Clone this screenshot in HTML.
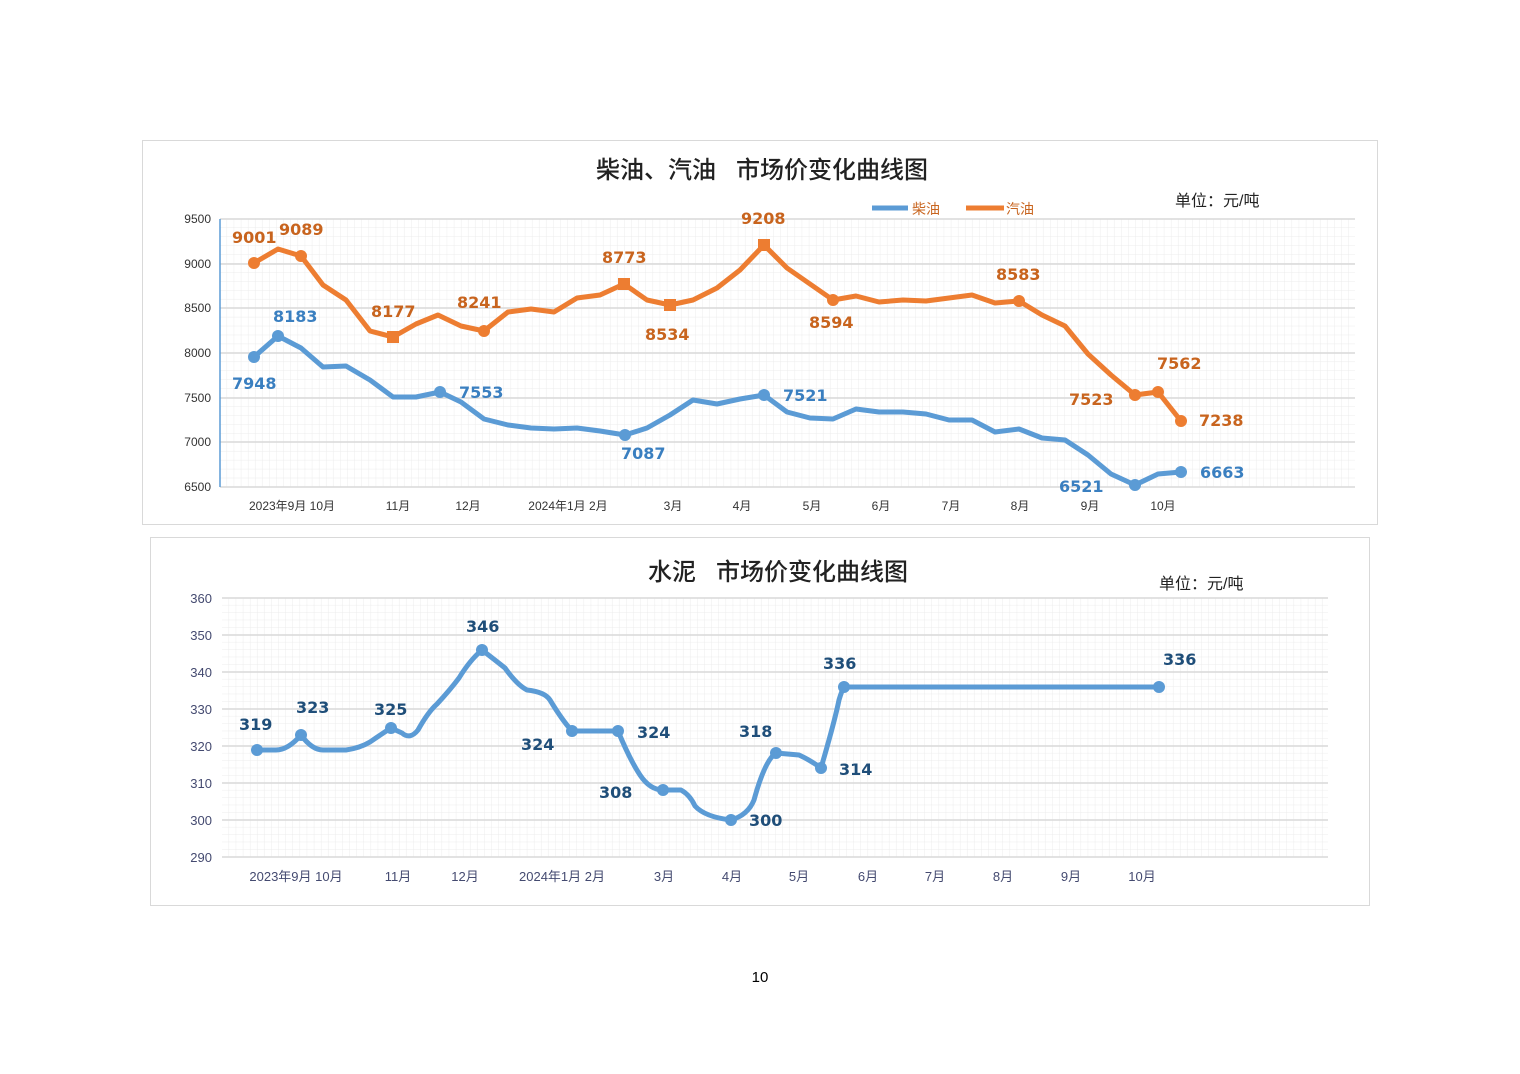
<!DOCTYPE html>
<html><head><meta charset="utf-8">
<style>
body{margin:0;background:#fff;}
svg{display:block;font-family:"Liberation Sans","Noto Sans CJK SC",sans-serif;}
.o{fill:#c8641e;font-weight:bold;font-size:16px;font-family:"DejaVu Sans",sans-serif}
.b{fill:#3a7fc0;font-weight:bold;font-size:16px;font-family:"DejaVu Sans",sans-serif}
.c{fill:#1f4e79;font-weight:bold;font-size:16px;font-family:"DejaVu Sans",sans-serif}
.ax{fill:#333;font-size:12px}
.ax2{fill:#444a70;font-size:13px}
</style></head><body>
<svg width="1520" height="1074" viewBox="0 0 1520 1074">
<defs>
<pattern id="g1" x="220" y="219" width="7.1" height="8.94" patternUnits="userSpaceOnUse">
<path d="M7.1 0V8.94M0 8.94H7.1" stroke="#ececec" stroke-width="1" fill="none"/></pattern>
<pattern id="g2" x="222" y="598" width="7.1" height="7.4" patternUnits="userSpaceOnUse">
<path d="M7.1 0V7.4M0 7.4H7.1" stroke="#ececec" stroke-width="1" fill="none"/></pattern>
</defs>
<rect x="142.5" y="140.5" width="1235" height="384" fill="#fff" stroke="#d9d9d9"/>
<text x="762" y="178" text-anchor="middle" font-size="24" font-weight="500" fill="#222">柴油、汽油&#160;&#160;&#160;市场价变化曲线图</text>
<text x="1175" y="206" font-size="16" fill="#222">单位：元/吨</text>
<line x1="872" y1="208" x2="908" y2="208" stroke="#5b9bd5" stroke-width="5"/>
<text x="912" y="214" font-size="14" fill="#c8641e">柴油</text>
<line x1="966" y1="208" x2="1004" y2="208" stroke="#ed7d31" stroke-width="5"/>
<text x="1006" y="214" font-size="14" fill="#c8641e">汽油</text>
<rect x="220" y="219" width="1135" height="268" fill="url(#g1)"/>
<g stroke="#d9d9d9" stroke-width="1.5">
<line x1="220" y1="219" x2="1355" y2="219"/><line x1="220" y1="264" x2="1355" y2="264"/>
<line x1="220" y1="308" x2="1355" y2="308"/><line x1="220" y1="353" x2="1355" y2="353"/>
<line x1="220" y1="398" x2="1355" y2="398"/><line x1="220" y1="442" x2="1355" y2="442"/>
<line x1="220" y1="487" x2="1355" y2="487"/></g>
<line x1="220" y1="219" x2="220" y2="487" stroke="#5b9bd5" stroke-width="1.5"/>
<g class="ax" text-anchor="end"><text x="211" y="223">9500</text><text x="211" y="268">9000</text><text x="211" y="312">8500</text><text x="211" y="357">8000</text><text x="211" y="402">7500</text><text x="211" y="446">7000</text><text x="211" y="491">6500</text></g>
<g class="ax" text-anchor="middle"><text x="292" y="510">2023年9月 10月</text><text x="398" y="510">11月</text><text x="468" y="510">12月</text><text x="568" y="510">2024年1月 2月</text><text x="673" y="510">3月</text><text x="742" y="510">4月</text><text x="812" y="510">5月</text><text x="881" y="510">6月</text><text x="951" y="510">7月</text><text x="1020" y="510">8月</text><text x="1090" y="510">9月</text><text x="1163" y="510">10月</text></g>
<polyline fill="none" stroke="#ed7d31" stroke-width="5" stroke-linejoin="round" points="254,263 278,249 301,256 323,285 346,300 370,331 393,337 416,324 438,315 461,326 484,331 508,312 531,309 554,312 577,298 600,295 624,284 647,300 670,305 693,300 717,288 740,270 764,245 787,268 810,284 833,300 856,296 879,302 903,300 926,301 949,298 972,295 995,303 1019,301 1042,315 1065,326 1088,354 1111,375 1135,395 1158,392 1181,421"/>
<g fill="#ed7d31"><circle cx="254" cy="263" r="6"/><circle cx="301" cy="256" r="6"/><rect x="387" y="331" width="12" height="12"/><circle cx="484" cy="331" r="6"/><rect x="618" y="278" width="12" height="12"/><rect x="664" y="299" width="12" height="12"/><rect x="758" y="239" width="12" height="12"/><circle cx="833" cy="300" r="6"/><circle cx="1019" cy="301" r="6"/><circle cx="1135" cy="395" r="6"/><circle cx="1158" cy="392" r="6"/><circle cx="1181" cy="421" r="6"/></g>
<polyline fill="none" stroke="#5b9bd5" stroke-width="5" stroke-linejoin="round" points="254,357 278,336 301,348 323,367 346,366 370,380 393,397 416,397 440,392 461,402 484,419 508,425 531,428 554,429 577,428 600,431 625,435 647,428 670,415 693,400 717,404 740,399 764,395 787,412 810,418 833,419 856,409 879,412 903,412 926,414 949,420 972,420 995,432 1019,429 1042,438 1065,440 1088,455 1111,474 1135,485 1158,474 1181,472"/>
<g fill="#5b9bd5"><circle cx="254" cy="357" r="6"/><circle cx="278" cy="336" r="6"/><circle cx="440" cy="392" r="6"/><circle cx="625" cy="435" r="6"/><circle cx="764" cy="395" r="6"/><circle cx="1135" cy="485" r="6"/><circle cx="1181" cy="472" r="6"/></g>
<g class="o"><text x="232" y="243">9001</text><text x="279" y="235">9089</text><text x="371" y="317">8177</text><text x="457" y="308">8241</text><text x="602" y="263">8773</text><text x="645" y="340">8534</text><text x="741" y="224">9208</text><text x="809" y="328">8594</text><text x="996" y="280">8583</text><text x="1069" y="405">7523</text><text x="1157" y="369">7562</text><text x="1199" y="426">7238</text></g>
<g class="b"><text x="232" y="389">7948</text><text x="273" y="322">8183</text><text x="459" y="398">7553</text><text x="621" y="459">7087</text><text x="783" y="401">7521</text><text x="1059" y="492">6521</text><text x="1200" y="478">6663</text></g>

<rect x="150.5" y="537.5" width="1219" height="368" fill="#fff" stroke="#d9d9d9"/>
<text x="778" y="580" text-anchor="middle" font-size="24" font-weight="500" fill="#222">水泥&#160;&#160;&#160;市场价变化曲线图</text>
<text x="1159" y="589" font-size="16" fill="#222">单位：元/吨</text>
<rect x="222" y="598" width="1106" height="259" fill="url(#g2)"/>
<g stroke="#d9d9d9" stroke-width="1.5">
<line x1="222" y1="598" x2="1328" y2="598"/><line x1="222" y1="635" x2="1328" y2="635"/><line x1="222" y1="672" x2="1328" y2="672"/><line x1="222" y1="709" x2="1328" y2="709"/><line x1="222" y1="746" x2="1328" y2="746"/><line x1="222" y1="783" x2="1328" y2="783"/><line x1="222" y1="820" x2="1328" y2="820"/><line x1="222" y1="857" x2="1328" y2="857"/></g>
<g class="ax2" text-anchor="end"><text x="212" y="603">360</text><text x="212" y="640">350</text><text x="212" y="677">340</text><text x="212" y="714">330</text><text x="212" y="751">320</text><text x="212" y="788">310</text><text x="212" y="825">300</text><text x="212" y="862">290</text></g>
<g class="ax2" text-anchor="middle" font-size="12"><text x="296" y="881">2023年9月 10月</text><text x="398" y="881">11月</text><text x="465" y="881">12月</text><text x="562" y="881">2024年1月 2月</text><text x="664" y="881">3月</text><text x="732" y="881">4月</text><text x="799" y="881">5月</text><text x="868" y="881">6月</text><text x="935" y="881">7月</text><text x="1003" y="881">8月</text><text x="1071" y="881">9月</text><text x="1142" y="881">10月</text></g>
<path fill="none" stroke="#5b9bd5" stroke-width="5" stroke-linejoin="round" d="M257,750 L276,750 Q288,750 301,735 Q312,750 323,750 L346,750 Q360,748 370,742 Q380,735 391,728 L402,733 Q410,740 418,730 Q428,712 437,704 Q450,690 459,678 Q470,660 482,650 Q495,660 505,668 Q517,685 527,690 Q545,692 550,700 Q562,720 572,731 L618,731 Q630,760 640,775 Q650,790 663,790 L681,790 Q690,795 695,806 Q705,817 731,820 Q748,815 754,800 Q765,760 776,753 L799,755 Q810,760 821,768 Q835,720 839,700 Q842,690 844,687 L1159,687"/>
<g fill="#5b9bd5"><circle cx="257" cy="750" r="6"/><circle cx="301" cy="735" r="6"/><circle cx="391" cy="728" r="6"/><circle cx="482" cy="650" r="6"/><circle cx="572" cy="731" r="6"/><circle cx="618" cy="731" r="6"/><circle cx="663" cy="790" r="6"/><circle cx="731" cy="820" r="6"/><circle cx="776" cy="753" r="6"/><circle cx="821" cy="768" r="6"/><circle cx="844" cy="687" r="6"/><circle cx="1159" cy="687" r="6"/></g>
<g class="c"><text x="239" y="730">319</text><text x="296" y="713">323</text><text x="374" y="715">325</text><text x="466" y="632">346</text><text x="521" y="750">324</text><text x="637" y="738">324</text><text x="599" y="798">308</text><text x="749" y="826">300</text><text x="739" y="737">318</text><text x="839" y="775">314</text><text x="823" y="669">336</text><text x="1163" y="665">336</text></g>
<text x="760" y="982" text-anchor="middle" font-size="15" fill="#000">10</text>
</svg>
</body></html>
